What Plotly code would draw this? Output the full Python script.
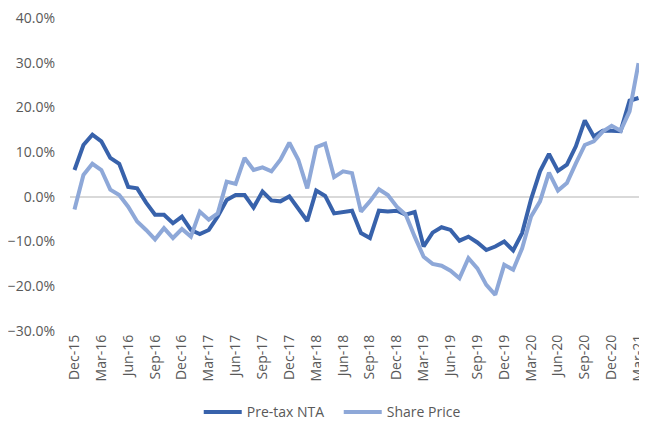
import plotly.graph_objects as go

months = ["Dec-15","Jan-16","Feb-16","Mar-16","Apr-16","May-16","Jun-16","Jul-16","Aug-16","Sep-16","Oct-16","Nov-16",
          "Dec-16","Jan-17","Feb-17","Mar-17","Apr-17","May-17","Jun-17","Jul-17","Aug-17","Sep-17","Oct-17","Nov-17",
          "Dec-17","Jan-18","Feb-18","Mar-18","Apr-18","May-18","Jun-18","Jul-18","Aug-18","Sep-18","Oct-18","Nov-18",
          "Dec-18","Jan-19","Feb-19","Mar-19","Apr-19","May-19","Jun-19","Jul-19","Aug-19","Sep-19","Oct-19","Nov-19",
          "Dec-19","Jan-20","Feb-20","Mar-20","Apr-20","May-20","Jun-20","Jul-20","Aug-20","Sep-20","Oct-20","Nov-20",
          "Dec-20","Jan-21","Feb-21","Mar-21"]

pretax_nta = [6.0, 11.6, 13.9, 12.4, 8.7, 7.4, 2.2, 1.9, -1.3, -4.0, -4.0, -5.9,
              -4.4, -7.4, -8.3, -7.4, -4.4, -0.7, 0.4, 0.4, -2.4, 1.2, -0.8, -1.0,
              0.1, -2.5, -5.4, 1.4, 0.2, -3.7, -3.5, -3.1, -8.1, -9.2, -3.1, -3.3,
              -3.1, -4.0, -3.4, -11.1, -8.0, -6.8, -7.4, -9.8, -8.9, -10.2, -11.9, -11.1,
              -10.0, -12.0, -8.1, -0.5, 5.7, 9.6, 5.8, 7.2, 11.3, 17.1, 13.5, 14.8,
              14.8, 14.7, 21.5, 22.1]

share_price = [-2.8, 4.9, 7.4, 6.0, 1.6, 0.4, -2.2, -5.5, -7.4, -9.5, -7.0, -9.2,
               -7.2, -8.9, -3.3, -5.1, -3.7, 3.4, 2.9, 8.7, 6.0, 6.6, 5.7, 8.3,
               12.1, 8.3, 1.9, 11.1, 11.9, 4.4, 5.7, 5.3, -3.3, -1.0, 1.7, 0.4,
               -2.2, -4.0, -8.9, -13.4, -15.0, -15.4, -16.5, -18.2, -13.7, -16.0, -19.7, -21.9,
               -15.2, -16.3, -11.5, -4.4, -1.0, 5.4, 1.4, 3.1, 7.5, 11.6, 12.4, 14.6,
               15.9, 14.8, 19.1, 29.9]

tick_step = 3
x_idx = list(range(len(months)))
tick_vals = x_idx[::tick_step]
tick_text = months[::tick_step]

fig = go.Figure()
fig.add_trace(go.Scatter(x=x_idx, y=pretax_nta, mode="lines", name="Pre-tax NTA",
                         line=dict(color="#3862AB", width=4), cliponaxis=False))
fig.add_trace(go.Scatter(x=x_idx, y=share_price, mode="lines", name="Share Price",
                         line=dict(color="#8EA8D8", width=4), cliponaxis=False))

# page body has an 8px default margin; the figure is sized to compensate
fig.update_layout(
    width=639, height=423,
    margin=dict(l=62, r=0, t=10, b=100),
    paper_bgcolor="white", plot_bgcolor="white",
    font=dict(family="Open Sans, Liberation Sans, sans-serif", size=14, color="#595959"),
    showlegend=True,
    legend=dict(orientation="h", x=0.469, xanchor="center", y=-0.26, yanchor="middle",
                font=dict(size=14, color="#595959"), itemwidth=38,
                entrywidth=87, entrywidthmode="pixels"),
)
fig.update_xaxes(range=[-0.5, len(months) - 0.5], tickmode="array", tickvals=tick_vals,
                 ticktext=tick_text, tickangle=-90, showgrid=False, zeroline=False,
                 showline=False, ticks="", ticklabeloverflow="allow",
                 tickfont=dict(size=14, color="#595959"))
fig.update_yaxes(range=[-30, 40], dtick=10, tickformat=".1f", ticksuffix="%",
                 showgrid=False, zeroline=True, zerolinecolor="#D9D9D9", zerolinewidth=1.5,
                 showline=False, ticks="", ticklabelstandoff=14, ticklabeloverflow="allow",
                 tickfont=dict(size=14, color="#595959"))

fig.write_html("out.html")
